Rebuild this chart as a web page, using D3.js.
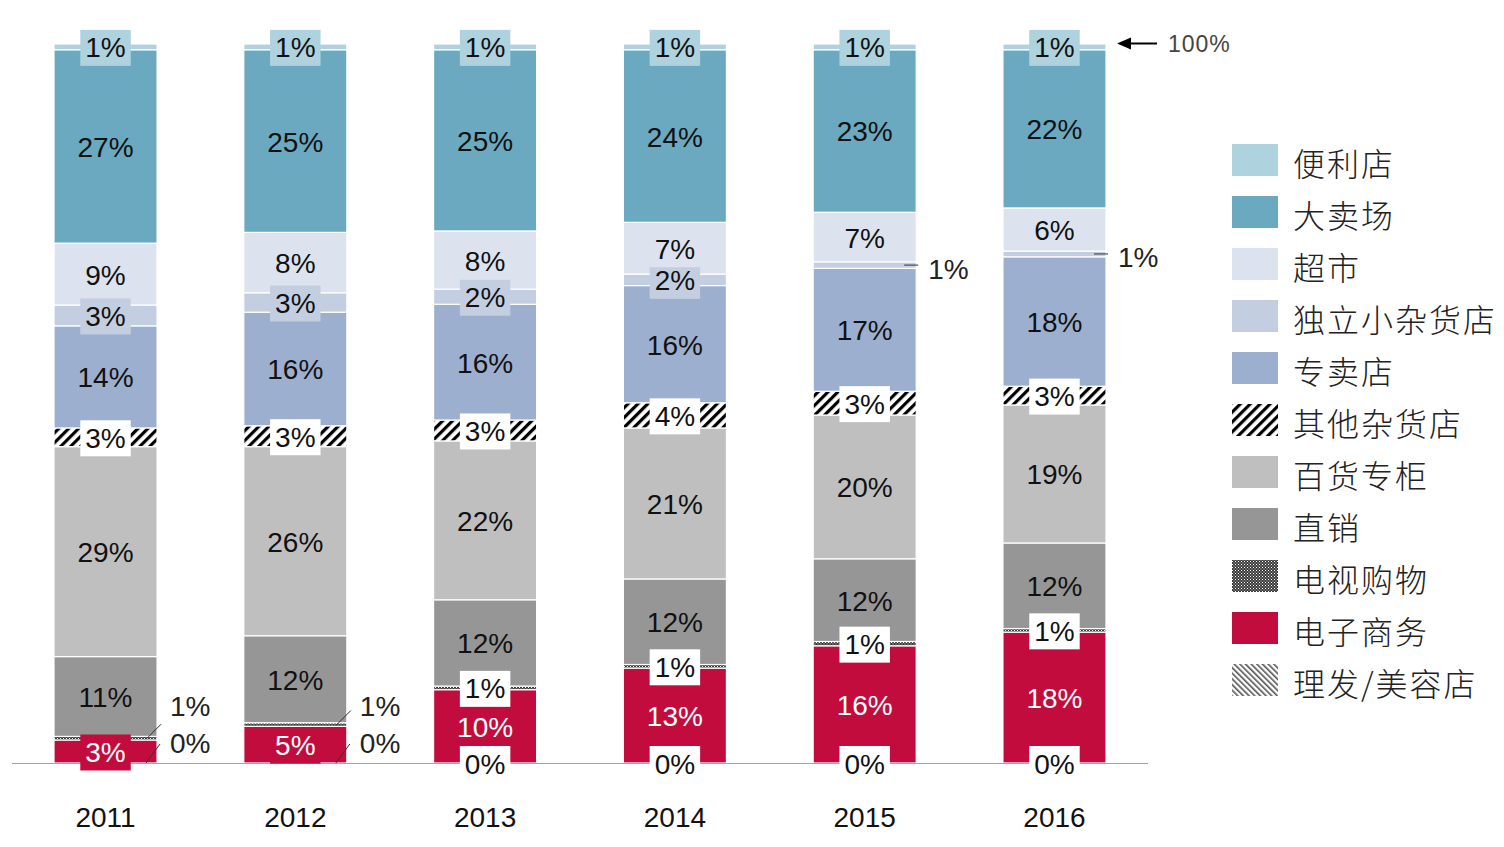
<!DOCTYPE html>
<html>
<head>
<meta charset="utf-8">
<script src="https://cdn.jsdelivr.net/npm/d3@7/dist/d3.min.js"></script>
<style>
  body { margin: 0; background: #fff; }
  svg { display: block; }
  .pct { font-family: "Liberation Sans", Arial, sans-serif; font-size: 28px; }
  .year { font-family: "Liberation Sans", Arial, sans-serif; font-size: 28px; fill: #111; }
  .legend-text { font-family: "Noto Sans CJK SC", sans-serif; font-size: 32px; font-weight: 300; fill: #222; letter-spacing: 2px; }
</style>
</head>
<body>
<svg id="chart_svg"></svg>
<script>
// Years on the x axis
var years = ["2011", "2012", "2013", "2014", "2015", "2016"];

// Channels, stacked from the bottom up
var channels = ["理发/美容店", "电子商务", "电视购物", "直销", "百货专柜", "其他杂货店",
                "专卖店", "独立小杂货店", "超市", "大卖场", "便利店"];

// Share of each channel per year (%)
var hairBeauty   = [0, 0, 0, 0, 0, 0];
var eCommerce    = [3.2, 5.1, 10.2, 13.2, 16.3, 18.2];
var tvShopping   = [0.5, 0.5, 0.5, 0.5, 0.6, 0.5];
var directSales  = [11.1, 12.1, 12.0, 11.9, 11.5, 11.9];
var deptCounters = [29.2, 26.3, 22.1, 21.0, 20.0, 19.2];
var otherGrocery = [2.6, 2.9, 2.9, 3.5, 3.3, 2.6];
var specialty    = [14.2, 15.8, 16.1, 16.3, 17.1, 18.0];
var independent  = [2.9, 2.7, 2.1, 1.6, 0.9, 0.8];
var supermarket  = [8.6, 8.4, 8.1, 7.2, 6.9, 6.0];
var hypermarket  = [26.9, 25.4, 25.2, 24.0, 22.6, 22.0];
var convenience  = [0.8, 0.8, 0.8, 0.8, 0.8, 0.8];

var series = [hairBeauty, eCommerce, tvShopping, directSales, deptCounters, otherGrocery,
              specialty, independent, supermarket, hypermarket, convenience];

// Labels that sit outside the bar with a leader line
var outsideLabels = [
    {year: "2011", key: "电视购物", kind: "up"},
    {year: "2011", key: "理发/美容店", kind: "base"},
    {year: "2012", key: "电视购物", kind: "up"},
    {year: "2012", key: "理发/美容店", kind: "base"},
    {year: "2015", key: "独立小杂货店", kind: "side"},
    {year: "2016", key: "独立小杂货店", kind: "side"}
];

// Build the table d3.stack wants
var table = years.map(function(y, i) {
    var row = {year: y};
    channels.forEach(function(c, j) { row[c] = series[j][i]; });
    return row;
});

var W = 1504, H = 847;
var svg = d3.select('#chart_svg').attr('width', W).attr('height', H);
var defs = svg.append('defs');

// Patterns
var p1 = defs.append('pattern').attr('id', 'pat_stripe')
    .attr('patternUnits', 'userSpaceOnUse').attr('width', 7).attr('height', 7)
    .attr('patternTransform', 'rotate(45)');
p1.append('rect').attr('width', 7).attr('height', 7).attr('fill', '#fff');
p1.append('rect').attr('width', 3.2).attr('height', 7).attr('fill', '#000');

var p2 = defs.append('pattern').attr('id', 'pat_fine')
    .attr('patternUnits', 'userSpaceOnUse').attr('width', 4).attr('height', 4)
    .attr('patternTransform', 'rotate(-45)');
p2.append('rect').attr('width', 4).attr('height', 4).attr('fill', '#fff');
p2.append('rect').attr('width', 1.6).attr('height', 4).attr('fill', '#555');

var p3 = defs.append('pattern').attr('id', 'pat_check')
    .attr('patternUnits', 'userSpaceOnUse').attr('width', 3).attr('height', 3);
p3.append('rect').attr('width', 3).attr('height', 3).attr('fill', '#3a3a3a');
p3.append('rect').attr('width', 1).attr('height', 1).attr('fill', '#fff');
p3.append('rect').attr('x', 1.5).attr('y', 1.5).attr('width', 1).attr('height', 1).attr('fill', '#ddd');

var fills = {
    "便利店": "#aed2de",
    "大卖场": "#6aa9c0",
    "超市": "#dde3ee",
    "独立小杂货店": "#c4cee1",
    "专卖店": "#9dafcf",
    "其他杂货店": "url(#pat_stripe)",
    "百货专柜": "#bfbfbf",
    "直销": "#969696",
    "电视购物": "url(#pat_check)",
    "电子商务": "#c20c3d",
    "理发/美容店": "url(#pat_fine)"
};

function label_bg(key) {
    var f = fills[key];
    return f.indexOf('url') === 0 ? '#fff' : f;
}

// Scales
var x = d3.scaleBand().domain(years).range([54, 1106]).paddingInner(0.457).paddingOuter(0);
var y = d3.scaleLinear().domain([0, 100]).range([763, 44]);

var stacked = d3.stack().keys(channels)(table);

// Bars
var layers = svg.append('g').attr('id', 'bars');
layers.selectAll('g')
    .data(stacked)
    .enter()
    .append('g')
      .attr('fill', function(s) { return fills[s.key]; })
    .selectAll('rect')
    .data(function(s) { return s; })
    .enter()
    .append('rect')
      .attr('x', function(d) { return x(d.data.year); })
      .attr('y', function(d) { return y(d[1]); })
      .attr('width', x.bandwidth())
      .attr('height', function(d) { return Math.max(0, y(d[0]) - y(d[1])); })
      .attr('stroke', '#fff')
      .attr('stroke-width', 1.2);

// Baseline
svg.append('line')
    .attr('x1', 12).attr('x2', 1148)
    .attr('y1', y(0) + 0.5).attr('y2', y(0) + 0.5)
    .attr('stroke', '#a6a6a6').attr('stroke-width', 1.2);

// Labels
var isOutside = function(year, key) {
    return outsideLabels.filter(function(o) { return o.year === year && o.key === key; })[0];
};

var labels = svg.append('g').attr('id', 'labels');
stacked.forEach(function(s) {
    s.forEach(function(d) {
        var year = d.data.year;
        var val = d.data[s.key];
        var txt = Math.round(val) + '%';
        var mid = (y(d[0]) + y(d[1])) / 2;
        var xl = x(year), xr = xl + x.bandwidth();
        var out = isOutside(year, s.key);
        if (out) {
            var lx1, ly1, lx2, ly2, tx, ty;
            if (out.kind === 'up') {
                lx1 = xr - 11; ly1 = mid + 1; lx2 = xr + 4; ly2 = mid - 14;
                tx = xr + 13; ty = y(0) - 57;
            } else if (out.kind === 'base') {
                lx1 = xr - 11; ly1 = y(0); lx2 = xr + 3; ly2 = y(0) - 19;
                tx = xr + 13; ty = y(0) - 20;
            } else {
                lx1 = xr - 12; ly1 = mid; lx2 = xr + 2; ly2 = mid;
                tx = xr + 12; ty = mid + 4;
            }
            labels.append('line')
                .attr('x1', lx1).attr('y1', ly1).attr('x2', lx2).attr('y2', ly2)
                .attr('stroke', '#333').attr('stroke-width', 1);
            labels.append('text')
                .attr('class', 'pct')
                .attr('x', tx).attr('y', ty)
                .attr('dominant-baseline', 'central')
                .attr('fill', '#222')
                .text(txt);
            return;
        }
        var g = labels.append('g');
        var bg = g.append('rect').attr('fill', label_bg(s.key));
        var t = g.append('text')
            .attr('class', 'pct')
            .attr('x', xl + x.bandwidth() / 2)
            .attr('y', mid + 1)
            .attr('text-anchor', 'middle')
            .attr('dominant-baseline', 'central')
            .attr('fill', s.key === '电子商务' ? '#fff' : '#111')
            .text(txt);
        var bb = t.node().getBBox();
        var bw = bb.width + 10, bh = 36;
        bg.attr('x', xl + x.bandwidth() / 2 - bw / 2)
          .attr('y', mid + 1 - bh / 2)
          .attr('width', bw).attr('height', bh);
    });
});

// Year axis
var xAxis = d3.axisBottom(x).tickSize(0).tickPadding(0);
var axisG = svg.append('g').attr('transform', 'translate(0,807)').call(xAxis);
axisG.select('.domain').remove();
axisG.selectAll('text').attr('class', 'year').attr('fill', '#111');

// 100% marker
svg.append('line')
    .attr('x1', 1157).attr('y1', y(100) - 0.5).attr('x2', 1128).attr('y2', y(100) - 0.5)
    .attr('stroke', '#000').attr('stroke-width', 2);
svg.append('path')
    .attr('d', d3.line()([[1117, y(100) - 0.5], [1131, y(100) - 6.5], [1131, y(100) + 5.5]]) + 'Z')
    .attr('fill', '#000');
svg.append('text')
    .attr('x', 1168).attr('y', y(100))
    .attr('dominant-baseline', 'central')
    .style('font-family', '"Liberation Sans", Arial, sans-serif')
    .style('font-size', '23px')
    .style('letter-spacing', '1px')
    .attr('fill', '#444')
    .text('100%');

// Legend (top of stack first)
var legendItems = channels.slice().reverse();
var legend = svg.append('g').attr('id', 'legend').attr('transform', 'translate(1232,160)');
var items = legend.selectAll('g')
    .data(legendItems)
    .enter()
    .append('g')
      .attr('transform', function(d, i) { return 'translate(0,' + (i * 52) + ')'; });
items.append('rect')
    .attr('x', 0).attr('y', -16)
    .attr('width', 46).attr('height', 32)
    .attr('fill', function(d) { return fills[d]; });
items.append('text')
    .attr('class', 'legend-text')
    .attr('x', 61).attr('y', 2)
    .attr('dominant-baseline', 'central')
    .text(function(d) { return d; });
</script>
</body>
</html>
